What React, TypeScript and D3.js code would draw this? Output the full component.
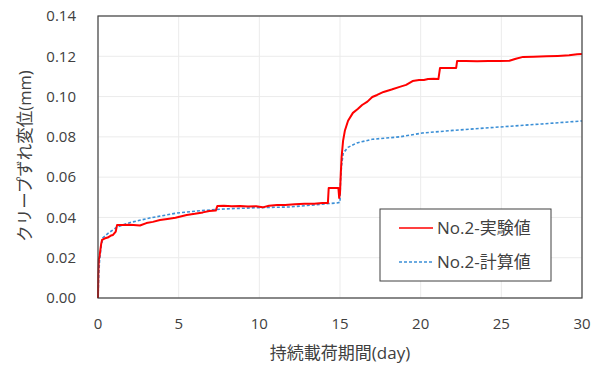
import React from "react";
import * as d3 from "d3";

const xTicks = [0, 5, 10, 15, 20, 25, 30];
const yTicks = [0, 0.02, 0.04, 0.06, 0.08, 0.1, 0.12, 0.14];

const expDays = [
  0, 0.02, 0.05, 0.1, 0.2, 0.25, 0.4, 0.6, 0.8, 0.93, 1.1, 1.18, 1.5, 2.0, 2.6, 3.0, 3.4, 3.84, 4.3, 4.8, 5.5,
  6.0, 6.5, 6.9, 7.3, 7.4, 7.8, 8.3, 8.8, 9.3, 9.8, 10.2, 10.6, 11.1, 11.6, 12.2, 12.8, 13.4, 13.9, 14.25,
  14.3, 14.6, 14.9, 14.95, 15.0, 15.05, 15.1, 15.19, 15.3, 15.5, 15.8, 16.1, 16.37, 16.7, 17.0, 17.3, 17.7,
  18.2, 18.7, 19.1, 19.5, 19.9, 20.2, 20.46, 20.8, 21.1, 21.2, 21.7, 22.2, 22.26, 22.8, 23.5, 24.2, 24.9,
  25.5, 25.9, 26.35, 27.0, 27.8, 28.5, 29.2, 29.7, 30
];
const expValues = [
  0, 0.012, 0.019, 0.021, 0.027, 0.0288, 0.0295, 0.03, 0.031, 0.0313, 0.033, 0.0362, 0.0362, 0.0364, 0.036,
  0.0372, 0.0378, 0.0387, 0.0392, 0.0398, 0.0412, 0.0418, 0.0425, 0.0432, 0.0434, 0.0457, 0.0458, 0.0455,
  0.0457, 0.0454, 0.0456, 0.045, 0.0458, 0.0462, 0.0462, 0.0466, 0.0468, 0.0468, 0.0472, 0.0472, 0.0546,
  0.0546, 0.0546, 0.0497, 0.052, 0.062, 0.07, 0.078, 0.083, 0.088, 0.0919, 0.0938, 0.0958, 0.0975, 0.0998,
  0.1008, 0.1023, 0.1035, 0.1048, 0.1058, 0.1077, 0.1082, 0.1082, 0.1087, 0.1088, 0.1087, 0.1142, 0.1142,
  0.1142, 0.1177, 0.1177, 0.1175, 0.1176, 0.1177, 0.1178, 0.1188, 0.1197, 0.1198, 0.12, 0.1202, 0.1205,
  0.121, 0.1211
];

const calcDays = [
  0, 0.05, 0.1, 0.2, 0.3, 0.6, 1.2, 2.0, 3.2, 4.9, 6.3, 7.8, 9.8, 11.9, 13.4, 14.8, 15.0, 15.03, 15.1, 15.2,
  15.5, 16.05, 17.0, 18.7, 20.1, 22.0, 24.9, 27.5, 30
];
const calcValues = [
  0, 0.012, 0.019, 0.026, 0.0298, 0.032, 0.0353, 0.0375, 0.0397, 0.0422, 0.0433, 0.0442, 0.0448, 0.0452,
  0.0462, 0.0472, 0.0475, 0.058, 0.066, 0.072, 0.0748, 0.077, 0.0788, 0.080, 0.0819, 0.0832, 0.0849, 0.0864,
  0.0879
];

const legendLabels = ["No.2-実験値", "No.2-計算値"];

const W = 601;
const H = 368;
const M = { left: 98, right: 19, top: 16, bottom: 70 };

export default function App() {
  const x = d3.scaleLinear().domain([0, 30]).range([M.left, W - M.right]);
  const y = d3.scaleLinear().domain([0, 0.14]).range([H - M.bottom, M.top]);
  const line = d3
    .line<[number, number]>()
    .x((d) => x(d[0]))
    .y((d) => y(d[1]));
  const expData: [number, number][] = expDays.map((d, i) => [d, expValues[i]]);
  const calcData: [number, number][] = calcDays.map((d, i) => [d, calcValues[i]]);
  const font = "'Open Sans', 'Noto Sans CJK JP', sans-serif";
  const textColor = "#404040";

  return (
    <svg width={W} height={H} style={{ position: "absolute", left: 0, top: 0, background: "#fff" }}>
      {xTicks.map((t) => (
        <line key={"gx" + t} x1={x(t)} x2={x(t)} y1={y(0)} y2={y(0.14)} stroke="#ebebeb" strokeWidth={1} />
      ))}
      {yTicks.map((t) => (
        <line key={"gy" + t} x1={x(0)} x2={x(30)} y1={y(t)} y2={y(t)} stroke="#ebebeb" strokeWidth={1} />
      ))}
      <path d={line(calcData) || ""} fill="none" stroke="#3b8fd6" strokeWidth={1.6} strokeDasharray="3,2" />
      <path d={line(expData) || ""} fill="none" stroke="#ff0000" strokeWidth={2} strokeLinejoin="round" />
      <rect x={x(0)} y={y(0.14)} width={x(30) - x(0)} height={y(0) - y(0.14)} fill="none" stroke="#404040" strokeWidth={1.2} />
      {yTicks.map((t) => (
        <text key={"ty" + t} x={76} y={y(t)} dy="0.35em" textAnchor="end" fontSize={15} fontFamily={font} fill={textColor}>
          {t.toFixed(2)}
        </text>
      ))}
      {xTicks.map((t) => (
        <text key={"tx" + t} x={x(t)} y={329} textAnchor="middle" fontSize={15} fontFamily={font} fill={textColor}>
          {t}
        </text>
      ))}
      <text x={340} y={359} textAnchor="middle" fontSize={17} fontFamily={font} fill={textColor}>
        持続載荷期間(day)
      </text>
      <text transform={`translate(31,156) rotate(-90)`} textAnchor="middle" fontSize={16.5} fontFamily={font} fill={textColor}>
        クリープずれ変位(mm)
      </text>
      <rect x={380} y={209} width={171} height={72} fill="#fff" stroke="#404040" strokeWidth={1} />
      <line x1={399} x2={433} y1={228} y2={228} stroke="#ff0000" strokeWidth={1.3} />
      <line x1={399} x2={433} y1={262} y2={262} stroke="#3b8fd6" strokeWidth={1.3} strokeDasharray="3,2" />
      <text x={437} y={228} dy="0.35em" fontSize={17} fontFamily={font} fill={textColor}>
        {legendLabels[0]}
      </text>
      <text x={437} y={262} dy="0.35em" fontSize={17} fontFamily={font} fill={textColor}>
        {legendLabels[1]}
      </text>
    </svg>
  );
}
